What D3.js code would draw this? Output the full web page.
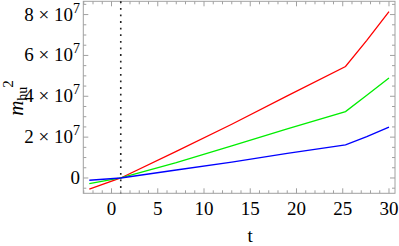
<!DOCTYPE html>
<html><head><meta charset="utf-8">
<script src="https://cdn.jsdelivr.net/npm/d3@7"></script>
<style>body{margin:0;background:#fff}svg{display:block}</style>
</head><body>
<svg id="c" width="399" height="246"></svg>
<script>
const tValues = [-2.4, 1, 7, 13, 19, 25.3, 27.6, 30];
const redValues = [-5.5e6, 0, 1.3e7, 2.63e7, 4.02e7, 5.46e7, 6.74e7, 8.14e7];
const greenValues = [-2.8e6, 0, 7.5e6, 1.57e7, 2.4e7, 3.25e7, 4.05e7, 4.89e7];
const blueValues = [-1.1e6, 0, 3.9e6, 7.8e6, 1.2e7, 1.62e7, 2.02e7, 2.49e7];
const xTicks = [0, 5, 10, 15, 20, 25, 30];
const yTicks = [0, 2e7, 4e7, 6e7, 8e7];
const yTickMantissa = ["0", "2", "4", "6", "8"];
const markerT = 1;

const svg = d3.select("#c");
const L = 83.3, R = 395, T = 1.3, B = 193.3;
const x = d3.scaleLinear().domain([-3.05, 30.65]).range([L, R]);
const y = d3.scaleLinear().domain([-7.5e6, 8.65e7]).range([B, T]);
const frameColor = "#a0a0a0";
const font = "Liberation Serif";

svg.append("rect").attr("x", L).attr("y", T).attr("width", R - L).attr("height", B - T)
  .attr("fill", "none").attr("stroke", frameColor).attr("stroke-width", 1);

const minorX = d3.range(-3, 31, 1);
const minorY = d3.range(-5e6, 8.6e7, 5e6);
const tg = svg.append("g").attr("stroke", frameColor).attr("stroke-width", 1);
minorX.forEach(v => {
  const len = v % 5 === 0 ? 5 : 3;
  const px = x(v);
  tg.append("line").attr("x1", px).attr("x2", px).attr("y1", B).attr("y2", B - len);
  tg.append("line").attr("x1", px).attr("x2", px).attr("y1", T).attr("y2", T + len);
});
minorY.forEach(v => {
  const len = Math.abs(v % 2e7) < 1 ? 5 : 3;
  const py = y(v);
  tg.append("line").attr("y1", py).attr("y2", py).attr("x1", L).attr("x2", L + len);
  tg.append("line").attr("y1", py).attr("y2", py).attr("x1", R).attr("x2", R - len);
});

svg.append("g").selectAll("text").data(xTicks).join("text")
  .attr("x", d => x(d)).attr("y", 215)
  .attr("text-anchor", "middle").attr("font-family", font).attr("font-size", 19)
  .text(d => d);

yTicks.forEach((v, i) => {
  const t = svg.append("text").attr("x", 80).attr("y", y(v) + 6)
    .attr("text-anchor", "end").attr("font-family", font).attr("font-size", 19)
    .attr("xml:space", "preserve");
  if (v === 0) { t.text("0"); return; }
  t.append("tspan").text(yTickMantissa[i] + " × 10");
  t.append("tspan").attr("font-size", 14).attr("dy", -8).text("7");
});

svg.append("text").attr("x", x(15)).attr("y", 242).attr("text-anchor", "middle")
  .attr("font-family", font).attr("font-size", 19).text("t");
const yl = svg.append("text").attr("transform", "translate(23,98) rotate(-90)")
  .attr("text-anchor", "middle").attr("font-family", font).attr("font-size", 21);
yl.append("tspan").attr("font-style", "italic").text("m");
yl.append("tspan").attr("font-size", 14).attr("dy", 4).text("hu");
yl.append("tspan").attr("font-size", 15).attr("dy", -14).attr("dx", -1).text("2");

svg.append("line").attr("x1", x(markerT)).attr("x2", x(markerT)).attr("y1", T).attr("y2", B)
  .attr("stroke", "#222").attr("stroke-width", 1.6).attr("stroke-dasharray", "1.8,4.8");

const line = d3.line().x(d => x(d[0])).y(d => y(d[1]));
[[redValues, "#ff0000"], [greenValues, "#00ee00"], [blueValues, "#0000ff"]].forEach(([vals, col]) => {
  svg.append("path").datum(tValues.map((t, i) => [t, vals[i]]))
    .attr("d", line).attr("fill", "none").attr("stroke", col).attr("stroke-width", 1.3);
});
</script>
</body></html>
